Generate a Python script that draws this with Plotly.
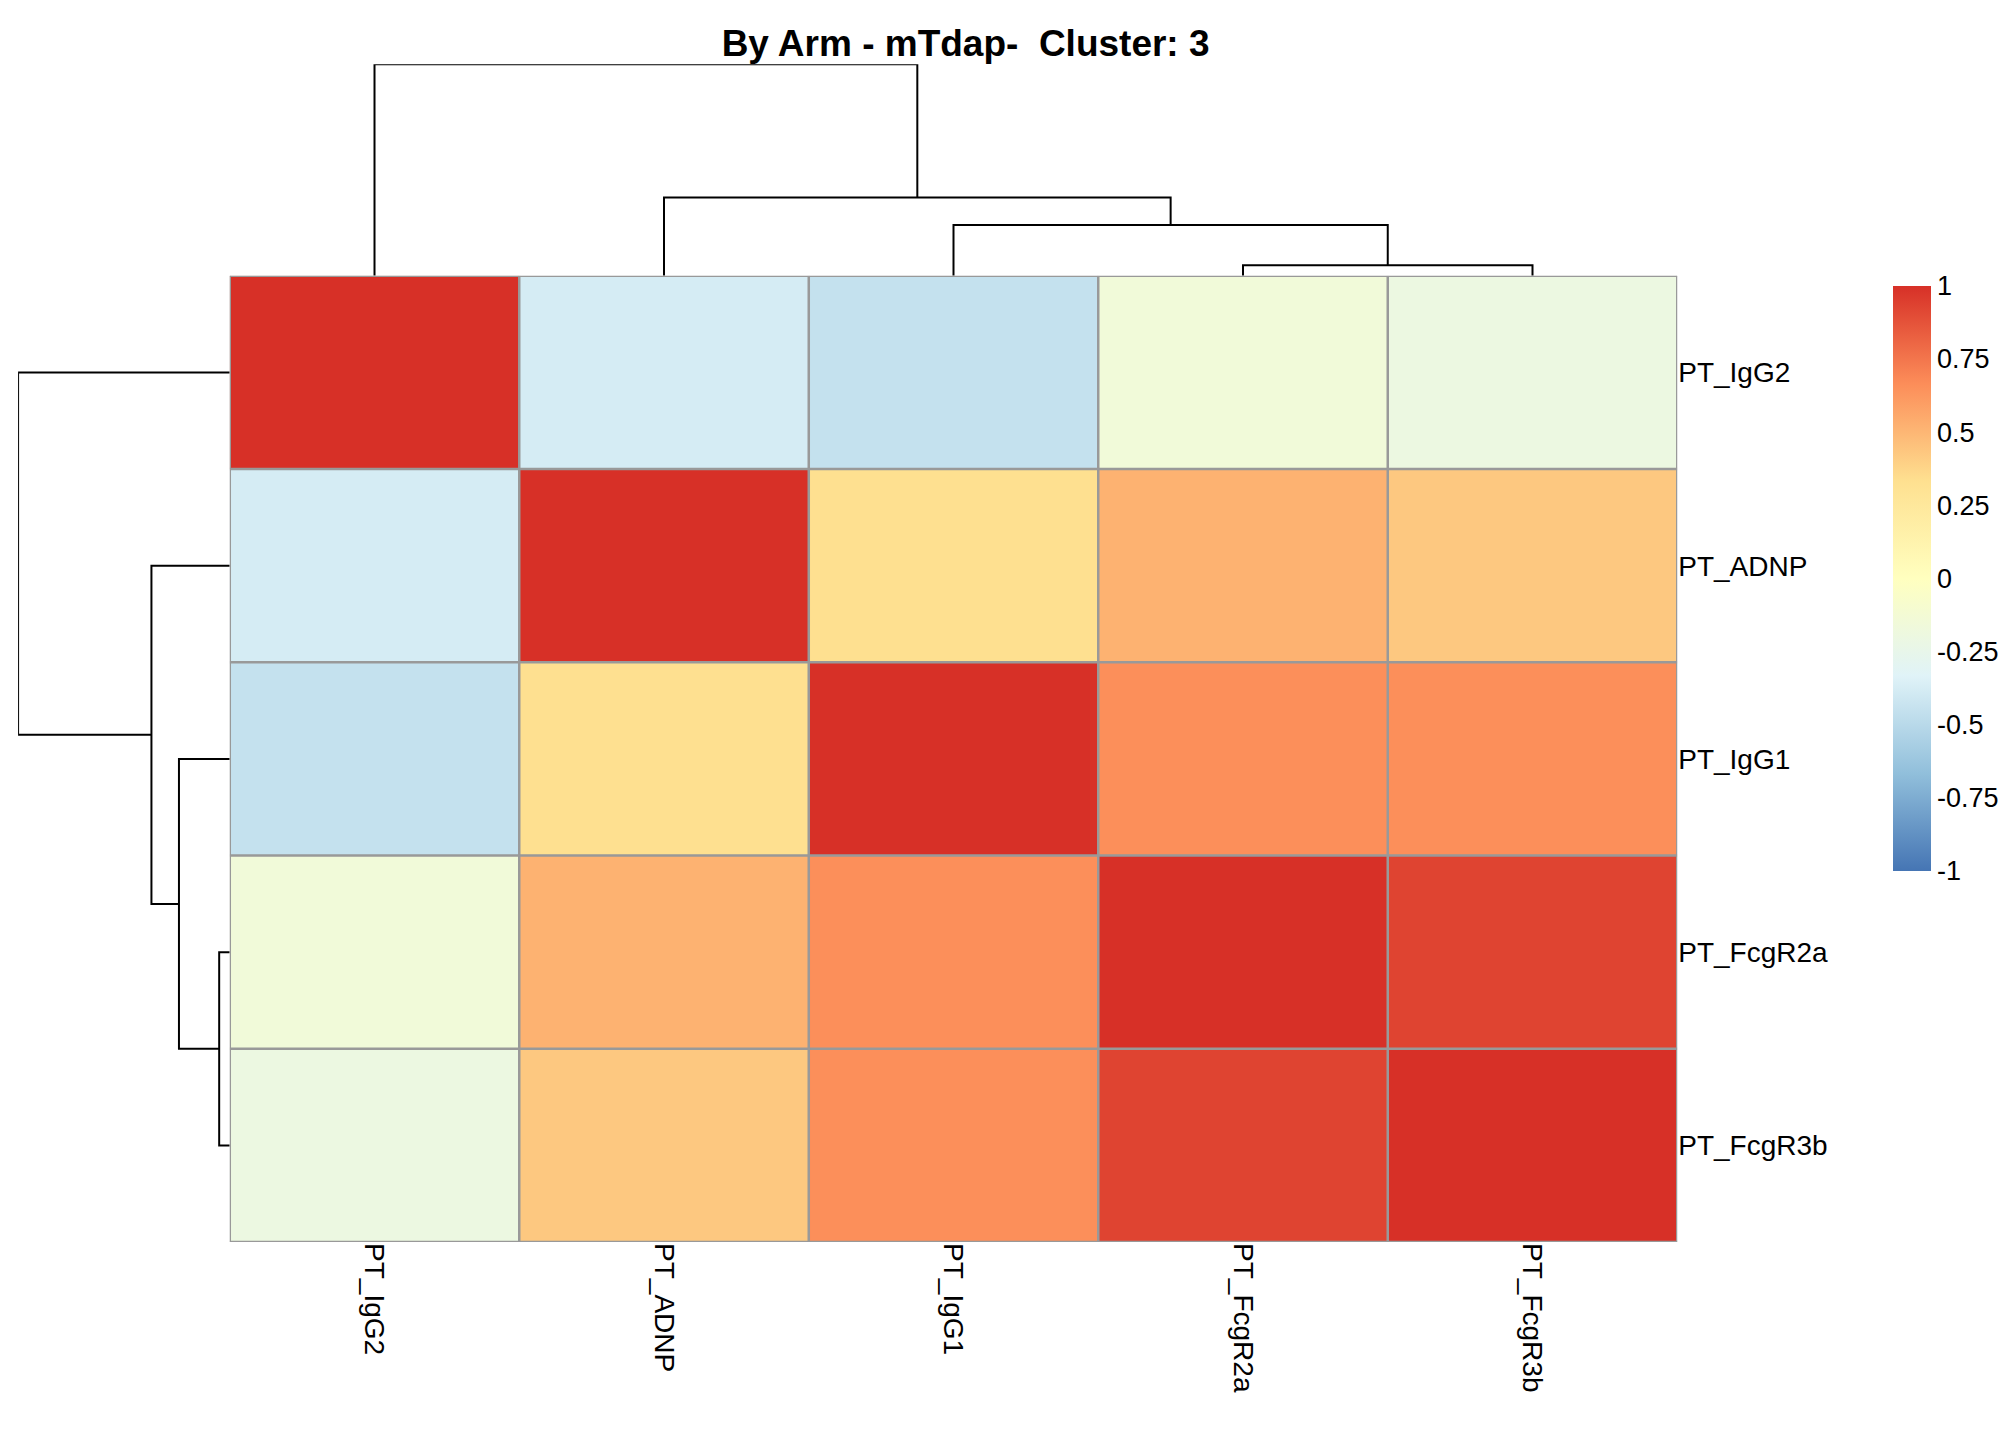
import plotly.graph_objects as go

labels = ["PT_IgG2", "PT_ADNP", "PT_IgG1", "PT_FcgR2a", "PT_FcgR3b"]
values = [
    [1.00, -0.38, -0.45, -0.15, -0.2],
    [-0.38, 1.00, 0.33, 0.52, 0.43],
    [-0.45, 0.33, 1.00, 0.66, 0.66],
    [-0.15, 0.52, 0.66, 1.00, 0.93],
    [-0.2, 0.43, 0.66, 0.93, 1.00],
]
# merges: (left node, right node, height); nodes 0-4 leaves, 5+ merged clusters
merges = [(3, 4, 0.05), (2, 5, 0.24), (1, 6, 0.37), (0, 7, 1.0)]

colors = ["#4575B4", "#91BFDB", "#E0F3F8", "#FFFFBF", "#FEE090", "#FC8D59", "#D73027"]
cscale = [[i / 6, c] for i, c in enumerate(colors)]

n = len(labels)
fig = go.Figure()
fig.add_trace(go.Heatmap(
    z=values[::-1], x=list(range(n)), y=list(range(n)), zmin=-1, zmax=1,
    colorscale=cscale,
    colorbar=dict(x=0.93, xanchor="left", y=0.814, yanchor="top", len=0.42,
                  thickness=38, outlinewidth=0,
                  tickvals=[1, 0.75, 0.5, 0.25, 0, -0.25, -0.5, -0.75, -1],
                  ticktext=["1", "0.75", "0.5", "0.25", "0", "-0.25", "-0.5", "-0.75", "-1"],
                  tickfont=dict(size=27, color="black"), ticks="")))

pos = {i: float(i) for i in range(n)}
hgt = {i: 0.0 for i in range(n)}
for k, (a, b, h) in enumerate(merges):
    node = n + k
    xs = [pos[a], pos[a], pos[b], pos[b]]
    ys = [hgt[a], h, h, hgt[b]]
    fig.add_trace(go.Scatter(x=xs, y=ys, mode="lines", xaxis="x2", yaxis="y2",
                             line=dict(color="black", width=2), showlegend=False, hoverinfo="skip"))
    fig.add_trace(go.Scatter(x=[-v for v in ys], y=[n - 1 - p for p in xs], mode="lines",
                             xaxis="x3", yaxis="y3",
                             line=dict(color="black", width=2), showlegend=False, hoverinfo="skip"))
    pos[node] = (pos[a] + pos[b]) / 2
    hgt[node] = h

fig.update_layout(
    width=2016, height=1440, paper_bgcolor="white", plot_bgcolor="white",
    font=dict(family="Liberation Sans, Arial", color="black"),
    title=dict(text="<b>By Arm - mTdap-  Cluster: 3</b>", x=0.475, xanchor="center", y=0.985,
               font=dict(size=37)),
    margin=dict(l=0, r=0, t=0, b=0),
    xaxis=dict(domain=[0.11, 0.828], range=[-0.5, n - 0.5], tickvals=list(range(n)), ticktext=labels,
               tickangle=90, tickfont=dict(size=28), showgrid=False, zeroline=False, ticks="",
               ticklen=8),
    yaxis=dict(domain=[0.143, 0.814], range=[-0.5, n - 0.5], tickvals=list(range(n)),
               ticktext=labels[::-1], side="right", tickfont=dict(size=28),
               showgrid=False, zeroline=False, ticks=""),
    xaxis2=dict(domain=[0.11, 0.828], range=[-0.5, n - 0.5], visible=False, anchor="y2"),
    yaxis2=dict(domain=[0.814, 0.961], range=[0, 1.0], visible=False, anchor="x2"),
    xaxis3=dict(domain=[0.005, 0.11], range=[-1.0, 0], visible=False, anchor="y3"),
    yaxis3=dict(domain=[0.143, 0.814], range=[-0.5, n - 0.5], visible=False, anchor="x3"),
)
for i in range(n + 1):
    b = i - 0.5
    fig.add_shape(type="line", xref="x", yref="y", x0=b, x1=b, y0=-0.5, y1=n - 0.5,
                  line=dict(color="#999999", width=2.5))
    fig.add_shape(type="line", xref="x", yref="y", x0=-0.5, x1=n - 0.5, y0=b, y1=b,
                  line=dict(color="#999999", width=2.5))
fig.write_html("out.html")
